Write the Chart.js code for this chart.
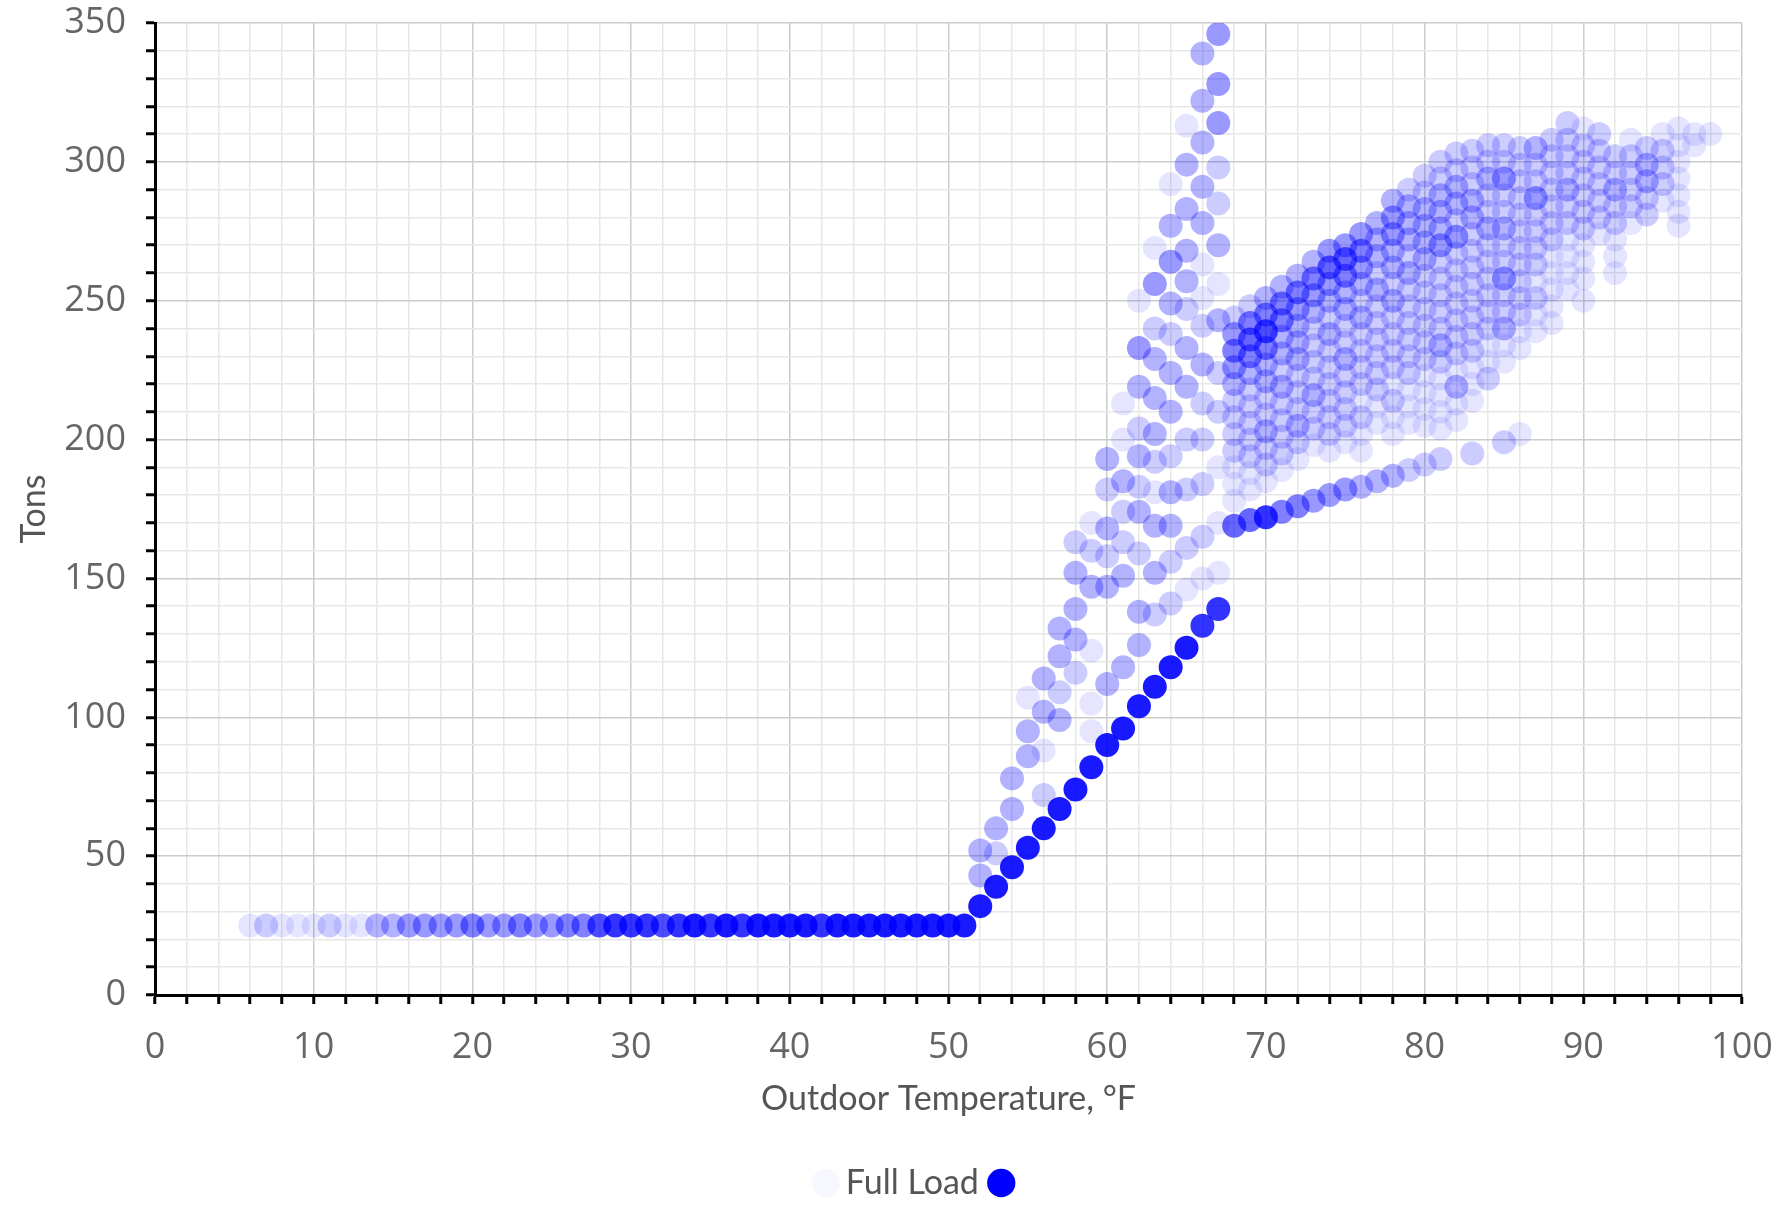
<!DOCTYPE html>
<html>
<head>
<meta charset="utf-8">
<title>Chiller Load vs Outdoor Temperature</title>
<script src="https://cdn.jsdelivr.net/npm/chart.js@4"></script>
<style>
  html, body { margin: 0; padding: 0; background: #ffffff; }
  #wrap { width: 1777px; height: 1205px; }
</style>
</head>
<body>
<div id="wrap"><canvas id="chart"></canvas></div>
<script>
// Each observation: [outdoor temperature °F, plant load in tons, hours logged at that bin]

// Winter base load: the plant idles at its minimum load.
const baseLoad = [
  [6,25,1],[7,25,2],[8,25,1],[9,25,1],[10,25,1],[11,25,2],[12,25,1],[13,25,1],
  [14,25,3],[15,25,3],[16,25,4],[17,25,4],[18,25,4],[19,25,4],[20,25,5],[21,25,4],
  [22,25,4],[23,25,5],[24,25,4],[25,25,4],[26,25,5],[27,25,5],[28,25,7],[29,25,8],
  [30,25,8],[31,25,8],[32,25,7],[33,25,8],[34,25,9],[35,25,8],[36,25,9],[37,25,8],
  [38,25,9],[39,25,9],[40,25,9],[41,25,9],[42,25,8],[43,25,9],[44,25,9],[45,25,9],
  [46,25,9],[47,25,9],[48,25,9],[49,25,9],[50,25,9],[51,25,9]
];

// Main ramp once cooling kicks in above 51 °F.
const rampLoad = [
  [52,32,9],[53,39,9],[54,46,9],[55,53,9],[56,60,9],[57,67,9],[58,74,9],[59,82,9],
  [60,90,9],[61,96,9],[62,104,9],[63,111,9],[64,118,9],[65,125,9],[66,133,8],[67,139,8]
];

// Shoulder-season spread above the main ramp.
const shoulderLoad = [
  [52,43,3],[52,52,3],
  [53,51,2],[53,60,3],
  [54,67,3],[54,78,3],
  [55,86,3],[55,95,3],[55,107,1],
  [56,72,2],[56,88,1],[56,102,3],[56,114,3],
  [57,99,3],[57,109,2],[57,122,3],[57,132,3],
  [58,116,2],[58,128,3],[58,139,3],[58,152,3],[58,163,2],
  [59,95,1],[59,105,1],[59,124,1],[59,147,3],[59,160,2],[59,170,1],
  [60,112,3],[60,147,3],[60,158,2],[60,168,3],[60,182,2],[60,193,3],
  [61,118,3],[61,151,3],[61,163,2],[61,174,2],[61,185,3],[61,200,1],[61,213,1],
  [62,126,3],[62,138,3],[62,159,2],[62,174,3],[62,183,2],[62,194,3],[62,204,2],[62,219,3],[62,233,4],[62,250,1],
  [63,137,2],[63,152,3],[63,169,3],[63,181,1],[63,192,2],[63,202,3],[63,215,3],[63,229,3],[63,240,2],[63,256,4],[63,269,1],
  [64,141,2],[64,156,2],[64,169,3],[64,181,3],[64,194,2],[64,210,3],[64,224,3],[64,238,2],[64,249,3],[64,264,4],[64,277,3],[64,292,1],
  [65,146,1],[65,161,2],[65,182,2],[65,200,2],[65,219,3],[65,233,3],[65,247,2],[65,257,3],[65,268,3],[65,283,3],[65,299,3],[65,313,1],
  [66,150,1],[66,165,2],[66,184,2],[66,200,2],[66,213,2],[66,227,3],[66,241,2],[66,251,1],[66,263,1],[66,278,3],[66,291,3],[66,307,3],[66,322,3],[66,339,3],
  [67,152,1],[67,170,1],[67,190,1],[67,210,2],[67,224,2],[67,243,3],[67,256,1],[67,270,3],[67,285,2],[67,298,2],[67,314,4],[67,328,4],[67,346,4]
];

// Summer low branch (second chiller staged on).
const summerBase = [
  [68,169,6],[69,171,6],[70,172,8],[71,174,5],[72,176,5],[73,178,4],[74,180,4],[75,182,4],
  [76,183,3],[77,185,3],[78,187,3],[79,189,2],[80,191,2],[81,193,2],[83,195,2],[85,199,2],[86,202,1]
];

// Summer operating cloud: one column per degree.
const summerTemps = [68,69,70,71,72,73,74,75,76,77,78,79,80,81,82,83,84,85,86,87,88,89,90,91,92,93,94,95,96,97,98];
const summerTons = [
  [244,238,232,226,220,214,208,202,196,190,184,178],
  [248,242,236,230,224,218,212,206,200,194,188,182],
  [251,245,239,233,227,221,215,209,203,197,191,185],
  [255,249,243,237,231,225,219,213,207,201,195,189],
  [259,253,247,241,235,229,223,217,211,205,199,193],
  [264,258,252,246,240,234,228,222,216,210,204,198],
  [268,262,256,250,244,238,232,226,220,214,208,202,196],
  [270,265,259,253,247,241,235,229,223,217,211,205,199],
  [274,268,262,256,250,244,238,232,226,220,214,208,202,196],
  [278,272,266,260,254,248,242,236,230,224,218,212,206],
  [286,280,274,268,262,256,250,244,238,232,226,220,214,208,202],
  [290,284,278,272,266,260,254,248,242,236,230,224,218,212,206],
  [295,289,283,277,271,265,259,253,247,241,235,229,223,217,211,205],
  [300,294,288,282,276,270,264,258,252,246,240,234,228,222,216,210,204],
  [303,297,291,285,279,273,267,261,255,249,243,237,231,225,219,213,207],
  [304,298,292,286,280,274,268,262,256,250,244,238,232,226,220,214],
  [306,300,294,288,282,276,270,264,258,252,246,240,234,228,222],
  [306,300,294,288,282,276,270,264,258,252,246,240,234,228],
  [305,299,293,287,281,275,269,263,257,251,245,239,233],
  [305,299,293,287,281,275,269,263,257,251,245,239],
  [308,302,296,290,284,278,272,266,260,254,248,242],
  [314,308,302,296,290,284,278,272,266,260,254],
  [312,306,300,294,288,282,276,270,264,258,250],
  [310,304,298,292,286,280,274],
  [302,296,290,284,278,272,266,260],
  [308,302,296,290,284,278],
  [305,299,293,287,281],
  [310,304,298,292,286],
  [312,306,300,294,288,282,277],
  [310,306],
  [310]
];
const summerHours = [
  [2,4,5,4,3,2,2,2,2,1,1,1],
  [2,5,6,5,3,2,2,2,2,2,1,1],
  [3,5,7,5,3,3,2,2,3,2,2,1],
  [3,5,5,3,3,2,3,2,2,2,2,1],
  [3,5,4,3,3,3,2,2,2,3,2,1],
  [3,5,4,3,2,2,2,2,3,2,2,1],
  [4,6,4,3,2,3,2,2,2,2,2,2,1],
  [4,6,5,3,3,2,2,3,2,2,2,2,1],
  [4,5,4,3,2,3,2,2,2,2,1,2,1,1],
  [3,3,3,2,3,2,2,2,2,2,2,1,1],
  [3,4,4,3,3,2,3,2,2,2,2,1,2,1,1],
  [2,3,3,3,2,3,2,2,2,2,2,2,1,1,1],
  [2,2,3,3,3,3,2,2,2,2,2,2,1,1,1,1],
  [2,2,3,3,3,4,2,2,2,2,2,3,2,1,1,1,1],
  [2,2,3,3,2,4,2,2,2,2,2,2,2,1,3,1,1],
  [2,2,2,3,3,2,2,2,2,2,2,2,2,1,1,1],
  [2,2,3,2,2,3,2,2,2,2,2,2,1,1,2],
  [2,2,4,2,2,3,2,2,4,2,2,3,1,1],
  [2,2,2,2,2,2,2,2,2,2,2,1,1],
  [3,2,2,4,2,2,2,2,1,2,1,1],
  [2,2,2,2,2,2,2,1,1,1,1,1],
  [2,2,2,2,3,2,2,1,1,1,1],
  [1,2,2,2,2,2,2,1,1,1,1],
  [2,2,2,2,2,2,1],
  [2,2,3,2,2,1,1,1],
  [1,2,2,2,2,1],
  [2,3,3,2,2],
  [1,2,2,2,1],
  [1,1,1,1,1,1,1],
  [1,1],
  [1]
];

const xTicks = { min: 0, max: 100, step: 2, labelEvery: 10 };
const yTicks = { min: 0, max: 350, step: 10, labelEvery: 50 };

// Flatten everything into point objects for the scatter dataset.
const points = [];
const push = ([t, tons, h]) => points.push({ x: t, y: tons, h: h });
baseLoad.forEach(push);
rampLoad.forEach(push);
shoulderLoad.forEach(push);
summerBase.forEach(push);
summerTemps.forEach((t, i) => {
  summerTons[i].forEach((tons, j) => push([t, tons, summerHours[i][j]]));
});

const opacity = h => Math.min(0.92, h / 10);
const blue = a => `rgba(0, 0, 255, ${a})`;

const tickFont = { family: '"Open Sans", "Noto Sans", sans-serif', size: 36 };
const titleFont = { family: '"Comic Sans MS", "Lato", sans-serif', size: 34 };

const gridColor = (every) => (ctx) =>
  ctx.tick && Math.round(ctx.tick.value) % every === 0 ? '#cccccc' : '#e7e7e7';

// Nudges the legend row so it sits centred under the plot.
const legendOffset = {
  id: 'legendOffset',
  afterLayout(chart, args, opts) {
    const lg = chart.legend;
    if (lg) {
      lg.left += opts.dx;
      lg.right += opts.dx;
      lg.top += opts.dy;
      lg.bottom += opts.dy;
    }
  }
};

new Chart(document.getElementById('chart'), {
  type: 'scatter',
  plugins: [legendOffset],
  data: {
    datasets: [{
      label: 'Full Load',
      data: points,
      pointRadius: 12,
      pointHoverRadius: 12,
      pointBorderWidth: 0,
      borderWidth: 0,
      backgroundColor: (ctx) => blue(opacity(ctx.raw ? ctx.raw.h : 10))
    }]
  },
  options: {
    responsive: true,
    maintainAspectRatio: false,
    animation: false,
    layout: { padding: { left: 0, right: 35, top: 23, bottom: 0 } },
    plugins: {
      tooltip: { enabled: false },
      legendOffset: { dx: 51, dy: 5 },
      legend: {
        position: 'bottom',
        labels: {
          usePointStyle: true,
          boxWidth: 6,
          boxHeight: 20,
          padding: 2,
          color: '#555555',
          font: titleFont,
          generateLabels: () => [
            { text: 'Full Load  ', fillStyle: blue(0.03), strokeStyle: blue(0.03), lineWidth: 0,
              pointStyle: 'circle', hidden: false, datasetIndex: 0, fontColor: '#555555' },
            { text: '', fillStyle: blue(1), strokeStyle: blue(1), lineWidth: 0,
              pointStyle: 'circle', hidden: false, datasetIndex: 0, fontColor: '#555555' }
          ]
        },
        onClick: () => {}
      }
    },
    scales: {
      x: {
        type: 'linear',
        min: xTicks.min,
        max: xTicks.max,
        afterFit: (scale) => {
          scale.paddingLeft = 0;
          scale.paddingRight = 0;
          scale.height -= 13;
        },
        ticks: {
          stepSize: xTicks.step,
          autoSkip: false,
          maxRotation: 0,
          padding: 22,
          color: '#666666',
          font: tickFont,
          callback: v => (Math.round(v) % xTicks.labelEvery === 0 ? v : '')
        },
        grid: {
          color: gridColor(xTicks.labelEvery),
          lineWidth: 1.5,
          tickColor: '#000000',
          tickLength: 9,
          tickWidth: 3
        },
        border: { color: '#000000', width: 3 },
        title: {
          display: true,
          text: 'Outdoor Temperature, °F',
          color: '#555555',
          font: titleFont,
          padding: { top: 0, bottom: 40 }
        }
      },
      y: {
        type: 'linear',
        min: yTicks.min,
        max: yTicks.max,
        afterFit: (scale) => {
          scale.width = 155;
          scale.paddingTop = 0;
          scale.paddingBottom = 0;
        },
        ticks: {
          stepSize: yTicks.step,
          autoSkip: false,
          padding: 20,
          color: '#666666',
          font: tickFont,
          callback: v => (Math.round(v) % yTicks.labelEvery === 0 ? v : '')
        },
        grid: {
          color: gridColor(yTicks.labelEvery),
          lineWidth: 1.5,
          tickColor: '#000000',
          tickLength: 9,
          tickWidth: 3
        },
        border: { color: '#000000', width: 3 },
        title: {
          display: true,
          text: 'Tons',
          color: '#555555',
          font: titleFont,
          padding: { top: 14, bottom: 6 }
        }
      }
    }
  }
});
</script>
</body>
</html>
